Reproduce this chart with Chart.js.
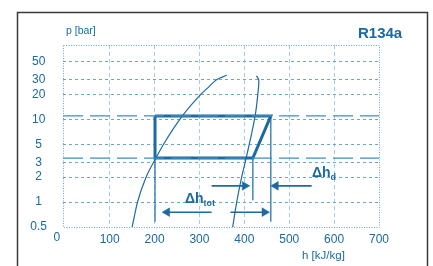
<!DOCTYPE html>
<html>
<head>
<meta charset="utf-8">
<script src="https://cdn.jsdelivr.net/npm/chart.js@4.4.1/dist/chart.umd.min.js"></script>
<style>
  html, body { margin: 0; padding: 0; background: #fff; }
  #chart { display: block; }
</style>
</head>
<body>
<canvas id="chart" width="433" height="266"></canvas>
<script>
// axis ticks
const hTicks = [0, 100, 200, 300, 400, 500, 600, 700];
const pTicks = [0.5, 1, 2, 3, 5, 10, 20, 30, 50];

// saturation dome (liquid / vapour line)
const liquidH = [150, 162, 181, 203, 220, 262, 303, 322, 338, 361];
const liquidP = [0.5, 1, 2, 3.4, 5, 11, 20, 25, 30, 34];
const vapourH = [374, 383, 394, 404, 411, 424, 430, 432, 427];
const vapourP = [0.5, 1, 2, 3.4, 5, 11, 20, 30, 33.5];

// refrigeration cycle
const cycleH = [201, 459, 419, 201, 201];
const cycleP = [11, 11, 3.4, 3.4, 11];
const levelP = [11, 3.4];

// drop lines under the cycle corners
const dropH = [201, 419, 459];
const dropFrom = [3.4, 3.4, 11];
const dropTo = [0.58, 1.05, 0.58];

// arrows (shaft start, head centre, pressure)
const arrowFrom = [327, 550, 327, 369];
const arrowTo = [401, 470, 228, 445];
const arrowP = [1.57, 1.57, 0.755, 0.755];

const blue = '#1b6ba0';
const textBlue = '#1a69a0';
const gridBlue = '#6aa5cf';
const font = '"Liberation Sans", Arial, sans-serif';

const pts = (xs, ys) => xs.map((x, i) => ({x: x, y: ys[i]}));

const datasets = [];

levelP.forEach(p => {
  datasets.push({
    data: [{x: -4, y: p}, {x: 700, y: p}],
    borderColor: '#3f8fc0', borderWidth: 1.3, borderDash: [20, 7],
    pointRadius: 0, showLine: true
  });
});

datasets.push({
  data: pts(liquidH, liquidP),
  borderColor: blue, borderWidth: 1.2, pointRadius: 0, showLine: true,
  cubicInterpolationMode: 'monotone'
});
datasets.push({
  data: pts(vapourH, vapourP),
  borderColor: blue, borderWidth: 1.2, pointRadius: 0, showLine: true,
  tension: 0.4
});

dropH.forEach((h, i) => {
  datasets.push({
    data: [{x: h, y: dropFrom[i]}, {x: h, y: dropTo[i]}],
    borderColor: blue, borderWidth: 1.2, pointRadius: 0, showLine: true
  });
});

datasets.push({
  data: pts(cycleH, cycleP),
  borderColor: blue, borderWidth: 3, pointRadius: 0, showLine: true,
  borderJoinStyle: 'miter'
});

arrowFrom.forEach((h, i) => {
  const right = arrowTo[i] > h;
  datasets.push({
    data: [{x: h, y: arrowP[i]}, {x: arrowTo[i], y: arrowP[i]}],
    borderColor: blue, borderWidth: 1.6, showLine: true,
    pointRadius: [0, 5], pointStyle: 'triangle',
    pointRotation: right ? 90 : -90,
    pointBackgroundColor: blue, pointBorderColor: blue, pointBorderWidth: 0.5
  });
});

function drawDelta(ctx, x, y, sub) {
  ctx.font = 'bold 14px ' + font;
  ctx.textBaseline = 'alphabetic';
  ctx.textAlign = 'left';
  ctx.fillText('Δh', x, y);
  const w = ctx.measureText('Δh').width;
  ctx.font = 'bold 9px ' + font;
  ctx.fillText(sub, x + w, y + 3);
}

const decor = {
  id: 'decor',
  beforeDraw(chart) {
    const {ctx} = chart;
    ctx.save();
    ctx.strokeStyle = '#3a3a3a';
    ctx.lineWidth = 1.5;
    ctx.strokeRect(17.5, 12.5, 410, 300);
    ctx.restore();
  },
  beforeDatasetsDraw(chart) {
    const {ctx, chartArea: a} = chart;
    ctx.save();
    ctx.strokeStyle = gridBlue;
    ctx.lineWidth = 1;
    ctx.setLineDash([1, 1.5]);
    ctx.strokeRect(Math.round(a.left) + 0.5, Math.round(a.top) + 0.5,
      Math.round(a.width), Math.round(a.height));
    ctx.restore();
  },
  afterDraw(chart) {
    const {ctx, scales} = chart;
    ctx.save();
    ctx.fillStyle = textBlue;
    // origin label sits left of its tick
    ctx.font = '12px ' + font;
    ctx.textAlign = 'center';
    ctx.textBaseline = 'middle';
    ctx.fillText('0', scales.x.getPixelForValue(0) - 8, 238);

    ctx.textAlign = 'left';
    ctx.font = '10.5px ' + font;
    ctx.fillText('p [bar]', 66, 31.5);
    ctx.font = '11.5px ' + font;
    ctx.fillText('h [kJ/kg]', 302, 256);
    ctx.font = 'bold 15px ' + font;
    ctx.fillText('R134a', 358, 33.5);

    drawDelta(ctx, 185, 203, 'tot');
    drawDelta(ctx, 312, 176.5, 'd');
    ctx.restore();
  }
};

new Chart(document.getElementById('chart'), {
  type: 'scatter',
  data: {datasets: datasets},
  options: {
    responsive: false,
    animation: false,
    layout: {padding: {top: 45, left: 0, right: 54, bottom: 0}},
    plugins: {legend: {display: false}, tooltip: {enabled: false}},
    scales: {
      x: {
        type: 'linear', min: -4, max: 700,
        afterFit: s => { s.height = 39; },
        afterBuildTicks: s => { s.ticks = hTicks.map(v => ({value: v})); },
        grid: {
          drawTicks: false, lineWidth: 1,
          color: c => (c.tick && (c.tick.value === 0 || c.tick.value === 700)) ? 'rgba(0,0,0,0)' : '#a9cbe3'
        },
        border: {display: false, dash: [4, 3]},
        ticks: {
          color: textBlue, padding: 5, maxRotation: 0, autoSkip: false,
          font: {family: font, size: 12},
          callback: v => v === 0 ? '' : String(v)
        }
      },
      y: {
        type: 'logarithmic', min: 0.5, max: 79,
        afterFit: s => { s.width = 63; },
        afterBuildTicks: s => { s.ticks = pTicks.map(v => ({value: v})); },
        grid: {
          drawTicks: false, lineWidth: 1,
          color: c => (c.tick && c.tick.value === 0.5) ? 'rgba(0,0,0,0)' : gridBlue
        },
        border: {display: false, dash: [3, 3]},
        ticks: {
          color: textBlue, padding: 16, crossAlign: 'center', autoSkip: false,
          font: {family: font, size: 12},
          callback: v => String(v)
        }
      }
    }
  },
  plugins: [decor]
});
</script>
</body>
</html>
